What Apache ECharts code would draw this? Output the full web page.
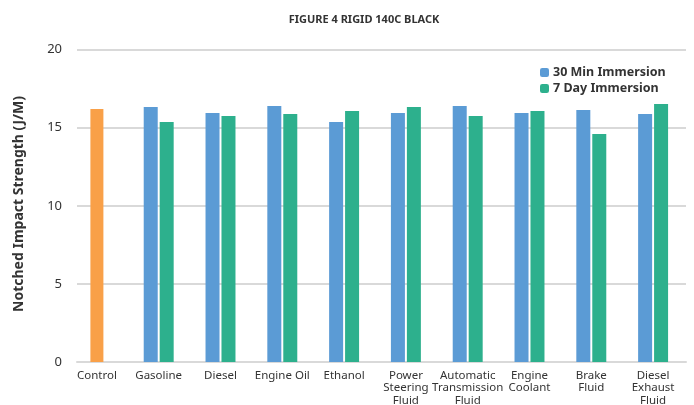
<!DOCTYPE html>
<html><head><meta charset="utf-8">
<script src="https://cdn.jsdelivr.net/npm/echarts@6/dist/echarts.min.js"></script>
<style>html,body{margin:0;padding:0;background:#fff;overflow:hidden}#c{width:694px;height:405px}</style>
</head><body><div id="c"></div>
<script>
const categories = ['Control','Gasoline','Diesel','Engine Oil','Ethanol','Power\nSteering\nFluid','Automatic\nTransmission\nFluid','Engine\nCoolant','Brake\nFluid','Diesel\nExhaust\nFluid'];
const controlValues = [16.2,'-','-','-','-','-','-','-','-','-'];
const min30Values = ['-',16.33,15.94,16.39,15.36,15.94,16.39,15.94,16.13,15.88];
const day7Values = ['-',15.36,15.75,15.88,16.07,16.33,15.75,16.07,14.6,16.52];
const yTicks = [0,5,10,15,20];

const chart = echarts.init(document.getElementById('c'), null, {renderer:'canvas'});
const F = '"Noto Sans", "Open Sans", sans-serif';
const yMin = yTicks[0], yMax = yTicks[yTicks.length-1];
chart.setOption({
  animation:false,
  title:{text:'FIGURE 4 RIGID 140C BLACK', left:359, top:9, textAlign:'center',
    textStyle:{fontFamily:F, fontSize:11, fontWeight:'bold', color:'#333'}},
  legend:{orient:'vertical', left:535, top:60, itemWidth:9, itemHeight:9, itemGap:1,
    data:['30 Min Immersion','7 Day Immersion'],
    textStyle:{fontFamily:F, fontSize:12.5, fontWeight:'bold', color:'#333', lineHeight:15, padding:[0,0,0,-1]}},
  grid:[
    {left:66, right:10, top:49.6, bottom:43, outerBoundsMode:'none', containLabel:false},
    {left:77, right:8, top:49.6, bottom:43, outerBoundsMode:'none', containLabel:false}
  ],
  graphic:[{type:'text', left:12, top:96, rotation:Math.PI/2,
    style:{text:'Notched Impact Strength (J/M)', fontFamily:F, fontSize:14, fontWeight:'bold', fill:'#333'}}],
  xAxis:[
    {type:'category', gridIndex:0, data:categories, axisTick:{show:false}, axisLine:{show:false},
     axisLabel:{fontFamily:F, fontSize:11.5, color:'#333', margin:7, lineHeight:12.7, interval:0}},
    {type:'category', gridIndex:0, data:categories, show:false},
    {type:'category', gridIndex:1, data:categories, axisTick:{show:false}, axisLabel:{show:false},
     axisLine:{lineStyle:{color:'#d9d9d9', width:2}}}
  ],
  yAxis:[
    {type:'value', gridIndex:0, min:yMin, max:yMax, interval:5, show:false, splitLine:{show:false}},
    {type:'value', gridIndex:1, min:yMin, max:yMax, interval:5,
     axisLine:{show:false}, axisTick:{show:false},
     axisLabel:{fontFamily:F, fontSize:13, color:'#333', margin:15},
     splitLine:{lineStyle:{color:'#d9d9d9', width:2}}}
  ],
  series:[
    {name:'Control', type:'bar', xAxisIndex:1, yAxisIndex:0, data:controlValues, barWidth:13,
     itemStyle:{color:'#F9A048'}},
    {name:'30 Min Immersion', type:'bar', xAxisIndex:0, yAxisIndex:0, data:min30Values, barWidth:14, barGap:'14%',
     itemStyle:{color:'#5B9BD5'}},
    {name:'7 Day Immersion', type:'bar', xAxisIndex:0, yAxisIndex:0, data:day7Values, barWidth:14, barGap:'14%',
     itemStyle:{color:'#2DB08D'}}
  ]
});
</script></body></html>
